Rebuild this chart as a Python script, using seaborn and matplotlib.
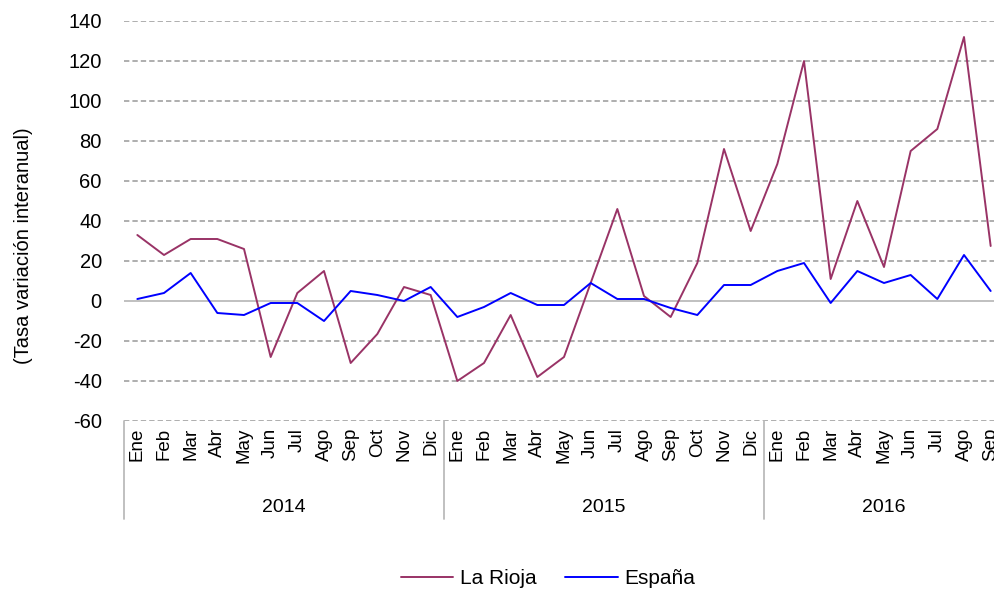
import numpy as np
import pandas as pd
import matplotlib
matplotlib.use("Agg")
import matplotlib.pyplot as plt
import matplotlib.transforms as mtransforms
from matplotlib.lines import Line2D
import seaborn as sns

months = ["Ene", "Feb", "Mar", "Abr", "May", "Jun", "Jul", "Ago", "Sep", "Oct", "Nov", "Dic"]
years = ["2014", "2015", "2016"]
month_labels = months * 2 + months[:9]

la_rioja = [33, 23, 31, 31, 26, -28, 4, 15, -31, -16.5, 7, 3,
            -40, -31, -7, -38, -28, 9, 46, 2.5, -8, 19, 76, 35,
            68.5, 120, 11, 50, 17, 75, 86, 132, 27.5]
espana = [1, 4, 14, -6, -7, -1, -1, -10, 5, 3, 0, 7,
          -8, -3, 4, -2, -2, 9, 1, 1, -3.5, -7, 8, 8,
          15, 19, -1, 15, 9, 13, 1, 23, 5]
series_names = ["La Rioja", "España"]
colors = {"La Rioja": "#993366", "España": "#0000FF"}

n = len(month_labels)
df = pd.DataFrame({
    "idx": list(range(n)) * 2,
    "valor": la_rioja + espana,
    "serie": [series_names[0]] * n + [series_names[1]] * n,
})

sns.set_theme(style="white")
plt.rcParams["font.family"] = ["Liberation Sans", "DejaVu Sans"]
plt.rcParams["text.color"] = "black"
plt.rcParams["xtick.color"] = "black"
plt.rcParams["ytick.color"] = "black"
plt.rcParams["axes.labelcolor"] = "black"

fig = plt.figure(figsize=(9.94, 5.91), dpi=100)
W, H = 994, 591
left, right, top, bottom = 124, 1004, 21, 421
ax = fig.add_axes([left / W, 1 - bottom / H, (right - left) / W, (bottom - top) / H])

sns.lineplot(data=df, x="idx", y="valor", hue="serie", palette=colors,
             linewidth=1.4, ax=ax, legend=False, zorder=3)

ax.set_xlim(-0.5, n - 0.5)
ax.set_ylim(-60, 140)
yt = list(range(-60, 141, 20))
ax.set_yticks(yt)
ax.set_yticklabels([str(v) for v in yt], fontsize=14.5)
for v in yt:
    if v == 0:
        ax.axhline(v, color="#bbbbbb", lw=1.3, zorder=1)
    else:
        ax.axhline(v, color="#999999", lw=1.1, ls=(0, (3.5, 2)), zorder=1)

for s in ax.spines.values():
    s.set_visible(False)

ax.set_xticks(range(n))
ax.set_xticklabels(month_labels, rotation=90, fontsize=13.5, va="top")
ax.tick_params(axis="x", length=0, pad=5)
ax.tick_params(axis="y", length=0, pad=16)
ax.set_xlabel("")
ax.set_ylabel("(Tasa variación interanual)", fontsize=14.5)
ax.yaxis.set_label_coords(-(124 - 33) / (right - left), (421 - 246) / (bottom - top))

trans = mtransforms.blended_transform_factory(ax.transData, ax.transAxes)
sep_depth = -(519 - 421) / (bottom - top)
for xs in [-0.5, 11.5, 23.5]:
    ax.add_line(Line2D([xs, xs], [0, sep_depth], transform=trans, color="#bbbbbb",
                       lw=1.3, clip_on=False))
year_centers = [5.5, 17.5, 28]
for yc, lab in zip(year_centers, years):
    ax.text(yc, -(507 - 421) / (bottom - top), lab, transform=trans, ha="center",
            va="center", fontsize=14)

handles = [Line2D([], [], color=colors[s], lw=1.4) for s in series_names]
fig.legend(handles, series_names, loc="center", bbox_to_anchor=(548 / W, 1 - 579 / H),
           ncol=2, frameon=False, fontsize=15, handlelength=2.5, columnspacing=1.4,
           handletextpad=0.3)

fig.savefig("out.png", dpi=100)
